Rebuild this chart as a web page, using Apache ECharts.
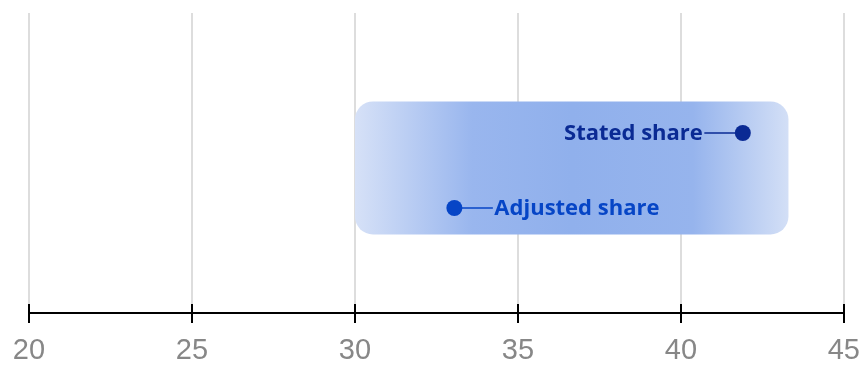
<!DOCTYPE html>
<html>
<head>
<meta charset="utf-8">
<script src="https://cdn.jsdelivr.net/npm/echarts@6/dist/echarts.min.js"></script>
<style>
  html, body { margin: 0; padding: 0; background: #ffffff; }
  #chart { width: 863px; height: 365px; }
</style>
</head>
<body>
<div id="chart"></div>
<script>
// Share estimates, in percent
const seriesNames = ['Stated share', 'Adjusted share'];
const shareValues = [41.9, 33.05];
const rowPositions = [0.6, 0.35];       // vertical slot of each marker
const labelSides = ['left', 'right'];   // which side of the dot the label sits on
const markerColors = ['#0a2a94', '#0645c6'];

// Highlighted range behind the markers
const bandRange = [30, 43.3];
const bandRows = [0.262, 0.705];

// Axis
const xMin = 20, xMax = 45, xStep = 5;

const chart = echarts.init(document.getElementById('chart'), null, { renderer: 'canvas' });

const bandGradient = new echarts.graphic.LinearGradient(0, 0, 1, 0, [
  { offset: 0, color: '#d6e1f7' },
  { offset: 0.27, color: '#99b6ee' },
  { offset: 0.5, color: '#90b0ec' },
  { offset: 0.78, color: '#96b4ed' },
  { offset: 1, color: '#d3dff6' }
]);

const axisLabelStyle = {
  fontFamily: 'Liberation Sans',
  fontSize: 29,
  color: '#878787',
  margin: 23
};

chart.setOption({
  animation: false,
  grid: { left: 29, right: 19, top: 13, bottom: 51 },
  xAxis: [
    {
      type: 'value', min: xMin, max: xMax, interval: xStep,
      axisLine: { show: true, lineStyle: { color: '#000', width: 2 } },
      axisTick: { show: true, length: 10, lineStyle: { color: '#000', width: 2 } },
      axisLabel: axisLabelStyle,
      splitLine: { show: true, lineStyle: { color: '#dddddd', width: 2 } }
    },
    {
      type: 'value', min: xMin, max: xMax, interval: xStep, position: 'bottom',
      axisLine: { show: false },
      axisTick: { show: true, inside: true, length: 9, lineStyle: { color: '#000', width: 2 } },
      axisLabel: { show: false },
      splitLine: { show: false }
    }
  ],
  yAxis: { type: 'value', min: 0, max: 1, show: false, splitLine: { show: false } },
  series: [
    {
      type: 'custom',
      name: 'band',
      silent: true,
      z: 1,
      data: [[bandRange[0], bandRows[1], bandRange[1], bandRows[0]]],
      renderItem: function (params, api) {
        const p0 = api.coord([api.value(0), api.value(1)]);
        const p1 = api.coord([api.value(2), api.value(3)]);
        return {
          type: 'rect',
          shape: { x: p0[0], y: p0[1], width: p1[0] - p0[0], height: p1[1] - p0[1], r: 18 },
          style: { fill: bandGradient }
        };
      }
    },
    {
      type: 'custom',
      name: 'shares',
      z: 3,
      data: shareValues.map((v, i) => [v, rowPositions[i], i]),
      renderItem: function (params, api) {
        const i = api.value(2);
        const c = api.coord([api.value(0), api.value(1)]);
        const color = markerColors[i];
        const dir = labelSides[i] === 'left' ? -1 : 1;
        const lineEnd = c[0] + dir * 38.5;
        return {
          type: 'group',
          children: [
            {
              type: 'line',
              shape: { x1: c[0], y1: c[1], x2: lineEnd, y2: c[1] },
              style: { stroke: color, lineWidth: 1.6 }
            },
            {
              type: 'circle',
              shape: { cx: c[0], cy: c[1], r: 8 },
              style: { fill: color }
            },
            {
              type: 'text',
              x: lineEnd + dir * 1.5,
              y: c[1] + 1,
              style: {
                text: seriesNames[i],
                fill: color,
                font: 'bold 22px "Open Sans"',
                align: dir < 0 ? 'right' : 'left',
                verticalAlign: 'middle'
              }
            }
          ]
        };
      }
    }
  ]
});
</script>
</body>
</html>
